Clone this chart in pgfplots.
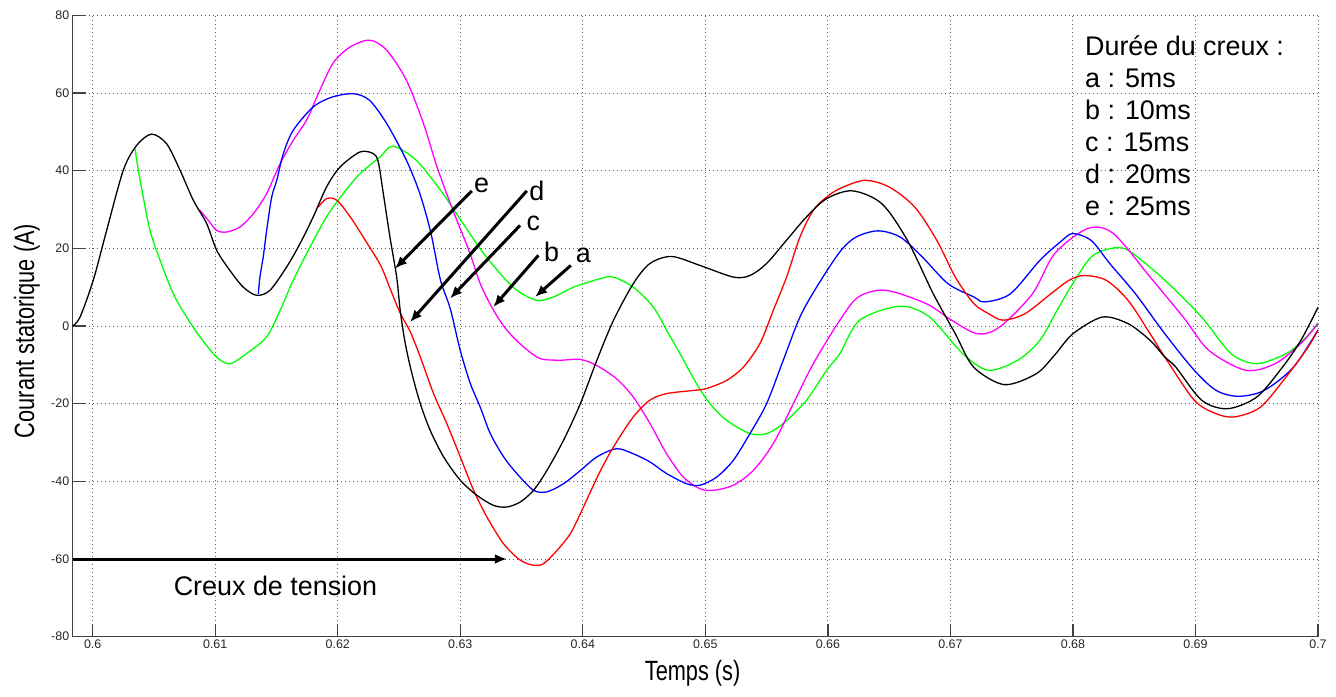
\documentclass[border=0pt]{standalone}
\usepackage{fontspec}
\setmainfont{Liberation Sans}
\newfontfamily\condfont[FakeStretch=0.78]{Liberation Sans}
\usepackage{pgfplots}
\pgfplotsset{compat=1.18}
\usetikzlibrary{arrows.meta,calc}

\definecolor{mgreen}{RGB}{0,255,0}
\definecolor{mmagenta}{RGB}{255,0,255}
\definecolor{mblue}{RGB}{0,0,255}
\definecolor{mred}{RGB}{255,0,0}

\newcommand\bigtxt{\fontsize{27}{32}\selectfont}

\begin{document}
\begin{tikzpicture}[
  arr/.style={-{Latex[length=12bp,width=10bp]}, line width=3bp, black},
  lab/.style={font=\bigtxt, inner sep=0pt, anchor=center},
  leg/.style={font=\bigtxt, inner sep=0pt, anchor=base west},
]
\begin{axis}[
    scale only axis,
    width=1245.3bp, height=621.4bp,
    xmin=0.59837, xmax=0.7,
    ymin=-80, ymax=80,
    axis x line=bottom, axis y line=left,
    axis line style={-, line width=1.3bp, black!75},
    tick align=inside,
    major tick length=13bp,
    tick style={line width=1.3bp, black!75},
    xtick={0.6,0.61,0.62,0.63,0.64,0.65,0.66,0.67,0.68,0.69,0.7},
    xticklabels={0.6,0.61,0.62,0.63,0.64,0.65,0.66,0.67,0.68,0.69,0.7},
    ytick={-80,-60,-40,-20,0,20,40,60,80},
    yticklabels={-80,-60,-40,-20,0,20,40,60,80},
    ticklabel style={font=\fontsize{12.5}{14}\selectfont, text=black!85},
    grid=major,
    major grid style={line width=0.9bp, black!65, dash pattern=on 1bp off 3bp},
    xlabel={\condfont\fontsize{28}{32}\selectfont Temps (s)},
    ylabel={\condfont\fontsize{28}{32}\selectfont Courant statorique (A)},
    xlabel style={at={(axis description cs:0.4978,-0.0589)}, anchor=center},
    ylabel style={at={(axis description cs:-0.0367,0.492)}, anchor=center},
    every axis plot/.append style={line width=1.3bp, smooth, tension=0.5},
    clip=false,
]

% green : a (5 ms)
\addplot[mgreen] coordinates {
(0.60345,45.7) (0.60373,40.1) (0.60413,33.2) (0.60468,24.6) (0.6055,16.9)
(0.60658,8.3) (0.60767,2.3) (0.60876,-2.8) (0.61012,-8) (0.6112,-9.7)
(0.61256,-7.1) (0.6142,-2.8) (0.61529,4.0) (0.61637,11.8) (0.61773,20.3)
(0.61909,28.1) (0.62045,34.1) (0.62181,39.2) (0.62345,43.5) (0.6245,46.3)
(0.6264,42.7) (0.6284,34.9) (0.6297,28.9) (0.6316,20) (0.63326,13.5)
(0.63462,9.2) (0.63626,6.6) (0.63762,7.5) (0.63925,10.0) (0.64142,12.2)
(0.64249,12.6) (0.64412,10.0) (0.64575,4.9) (0.64684,-1.1) (0.64793,-7.1)
(0.64929,-14.9) (0.65038,-20) (0.65174,-24.3) (0.65364,-27.7) (0.655,-27.7)
(0.65636,-25.1) (0.65826,-19.1) (0.6599,-11.4) (0.66098,-7.1) (0.6626,1.5)
(0.6659,5.1) (0.6683,2.3) (0.6710,-7.1) (0.6731,-11.4) (0.6755,-8.8)
(0.6773,-3.7) (0.6787,4) (0.6800,11) (0.6815,17.8) (0.6830,19.9)
(0.6845,19.5) (0.6875,11.8) (0.6905,2.3) (0.6929,-7.1) (0.6950,-9.7)
(0.6974,-7.1) (0.6990,-3.0) (0.7,0.8)
};

% magenta : b (10 ms)
\addplot[mmagenta] coordinates {
(0.60876,29.8) (0.60944,27.2) (0.61012,24.6) (0.61093,24.2) (0.61202,25.5)
(0.61311,28.9) (0.6142,34.1) (0.61529,41.8) (0.61637,47.8) (0.61746,53)
(0.6183,59) (0.6196,67.6) (0.6210,71.8) (0.6226,73.6) (0.6240,71)
(0.6256,63.3) (0.6270,52.1) (0.6281,41) (0.6294,29.8) (0.6307,19.5)
(0.63163,10.9) (0.63272,4.0) (0.63381,-1.1) (0.63517,-5.4) (0.63653,-8.4)
(0.63816,-8.8) (0.6398,-8.6) (0.64115,-10.2) (0.64276,-13.6) (0.64412,-18.3)
(0.64548,-25.1) (0.64684,-32.9) (0.6482,-38.9) (0.64956,-41.9) (0.65065,-42.3)
(0.65228,-41.0) (0.65391,-37.2) (0.65554,-30.3) (0.65718,-20) (0.65881,-9.7)
(0.66098,1.5) (0.6625,7.5) (0.6647,9.2) (0.6680,5.8) (0.6701,1.5)
(0.6722,-2) (0.6740,-0.3) (0.6767,8.3) (0.6785,18.6) (0.6812,25.1)
(0.6833,23.8) (0.6863,12.6) (0.6890,2.3) (0.6911,-6.3) (0.6941,-11.4)
(0.6965,-9.7) (0.6986,-4.5) (0.7,0.6)
};

% blue : c (15 ms)
\addplot[mblue] coordinates {
(0.61352,8.3) (0.61365,12.6) (0.61392,17.8) (0.6142,24.6) (0.61461,33.2)
(0.61502,37.5) (0.61556,44.4) (0.61637,50.4) (0.6180,56.4) (0.6196,59)
(0.6213,59.8) (0.6226,58.1) (0.6240,52.1) (0.6256,42.7) (0.6267,34.1)
(0.6276,24) (0.62837,12) (0.62918,4.5) (0.63,-6.3) (0.63082,-14.8)
(0.63163,-20.9) (0.63245,-27.7) (0.63354,-33.7) (0.63462,-38) (0.63598,-42.3)
(0.63707,-42.7) (0.63843,-40.6) (0.6398,-37.2) (0.64115,-33.7) (0.64276,-31.6)
(0.64412,-32.9) (0.64548,-35) (0.64684,-38) (0.64847,-40.6) (0.64956,-41)
(0.65092,-38.9) (0.65228,-34.6) (0.65364,-27.7) (0.655,-20) (0.65636,-8.8)
(0.65772,2.3) (0.65908,10.0) (0.66098,19.1) (0.6623,22.9) (0.6641,24.5)
(0.6659,22.9) (0.6677,17.8) (0.6698,10.9) (0.6719,7.5) (0.6728,6.2)
(0.6749,8.3) (0.6773,16.9) (0.6791,22) (0.6800,23.8) (0.6815,22)
(0.6830,16.1) (0.6851,8.3) (0.6875,-2) (0.6899,-11.4) (0.6917,-16.6)
(0.6935,-18.1) (0.6956,-16.6) (0.6980,-10.6) (0.7,-1)
};

% red : d (20 ms)
\addplot[mred] coordinates {
(0.61841,30.6) (0.61909,32.8) (0.61991,32.4) (0.621,28.2) (0.6222,22.3)
(0.6235,15.6) (0.62429,9.5) (0.6251,3.3) (0.62592,-1.5)
(0.62674,-8) (0.62782,-17.4) (0.62891,-25.2) (0.63,-33.7) (0.63109,-42.3)
(0.63218,-49.2) (0.63354,-56.1) (0.6349,-60.3) (0.63598,-61.6) (0.6368,-61.2)
(0.63789,-57.8) (0.63898,-53.5) (0.6398,-48.3) (0.64061,-42.8) (0.6414,-37.5)
(0.64249,-31.2) (0.64412,-23.4) (0.64548,-19.1) (0.64684,-17.4) (0.64902,-16.6)
(0.6501,-16.1) (0.65174,-14) (0.6531,-10.6) (0.65446,-4.5) (0.65554,4)
(0.65663,12.6) (0.65772,22.9) (0.65881,29.8) (0.6599,33.2) (0.66098,35.4)
(0.6630,37.5) (0.6650,35.8) (0.6671,30.6) (0.6689,22) (0.6704,12.6)
(0.6719,5.8) (0.6731,3.2) (0.6743,1.5) (0.6761,3.2) (0.6782,8.3)
(0.6797,11.8) (0.6809,13) (0.6827,11.8) (0.6845,6.6) (0.6863,-2)
(0.6875,-8) (0.6899,-19.1) (0.6917,-22.6) (0.6932,-23.4) (0.6953,-20.9)
(0.6974,-13.1) (0.6992,-5.4) (0.7,-1)
};

% black : e (25 ms)
\addplot[black] coordinates {
(0.59837,0) (0.59897,2.3) (0.60005,11.8) (0.60114,24.6) (0.6025,40.1)
(0.60359,46.5) (0.60481,49.4) (0.60604,46.9) (0.60713,40.1) (0.60821,32.4)
(0.6093,26.4) (0.61012,19.5) (0.6112,14.3) (0.61229,10.0) (0.61338,7.9)
(0.61447,9.2) (0.61583,15.2) (0.61692,21.2) (0.618,28.1) (0.61909,35.8)
(0.62018,40.9) (0.62181,44.8) (0.6229,44.4) (0.62331,42.2) (0.62372,34.1)
(0.62426,22.9) (0.62481,12.6) (0.6251,4.0) (0.62551,-4.5) (0.62606,-12.3)
(0.62674,-20) (0.62755,-26.9) (0.62864,-33.7) (0.63,-39.7) (0.63136,-43.6)
(0.63272,-46.2) (0.63381,-46.6) (0.6349,-45.3) (0.63598,-42.3) (0.63707,-37.2)
(0.63843,-29.4) (0.6398,-20) (0.64115,-8.8) (0.64251,1.5) (0.64412,10.9)
(0.64548,16.1) (0.64725,17.9) (0.64956,15.6) (0.65228,12.6) (0.65364,13.0)
(0.655,16.1) (0.65663,22.1) (0.65826,28.1) (0.6599,32.8) (0.6620,34.8)
(0.6644,31.5) (0.6665,22) (0.6686,8.3) (0.6704,-2) (0.6719,-10.6)
(0.6744,-15.1) (0.6770,-12.3) (0.6785,-7.5) (0.6800,-2) (0.6824,2.3)
(0.6845,0.6) (0.6863,-3.7) (0.6875,-8) (0.6884,-10.6) (0.6905,-19.1)
(0.6926,-21.3) (0.6950,-18.3) (0.6971,-10.6) (0.6986,-3.7) (0.7,4.8)
};

% annotation arrows
\draw[arr] (axis cs:0.63094,34.8) -- (axis cs:0.62468,14.8);
\draw[arr] (axis cs:0.63543,34.8) -- (axis cs:0.62590,1.0);
\draw[arr] (axis cs:0.63488,25.9) -- (axis cs:0.62917,7.1);
\draw[arr] (axis cs:0.63638,18.2) -- (axis cs:0.63270,4.9);
\draw[arr] (axis cs:0.63902,15.6) -- (axis cs:0.63611,7.5);
\node[lab] at (axis cs:0.63175,36.2) {e};
\node[lab] at (axis cs:0.63624,34.9) {d};
\node[lab] at (axis cs:0.63596,26.4) {c};
\node[lab] at (axis cs:0.63746,19.1) {b};
\node[lab] at (axis cs:0.64004,18.2) {a};

\draw[arr] (axis cs:0.59837,-60) -- (axis cs:0.6338,-60);
\node[lab] at (axis cs:0.61492,-66.9) {Creux de tension};

\node[leg] at (axis cs:0.68098,69.7) {Durée du creux :};
\node[leg] at (axis cs:0.68098,61.4) {a : 5ms};
\node[leg] at (axis cs:0.68098,53.2) {b : 10ms};
\node[leg] at (axis cs:0.68098,45.0) {c : 15ms};
\node[leg] at (axis cs:0.68098,36.7) {d : 20ms};
\node[leg] at (axis cs:0.68098,28.5) {e : 25ms};

\coordinate (BL) at (rel axis cs:0,0);
\coordinate (TR) at (rel axis cs:1,1);
\end{axis}
\pgfresetboundingbox
\path[use as bounding box] ($(BL)+(-72.7bp,-59.3bp)$) rectangle ($(TR)+(18bp,15.3bp)$);
\end{tikzpicture}
\end{document}
